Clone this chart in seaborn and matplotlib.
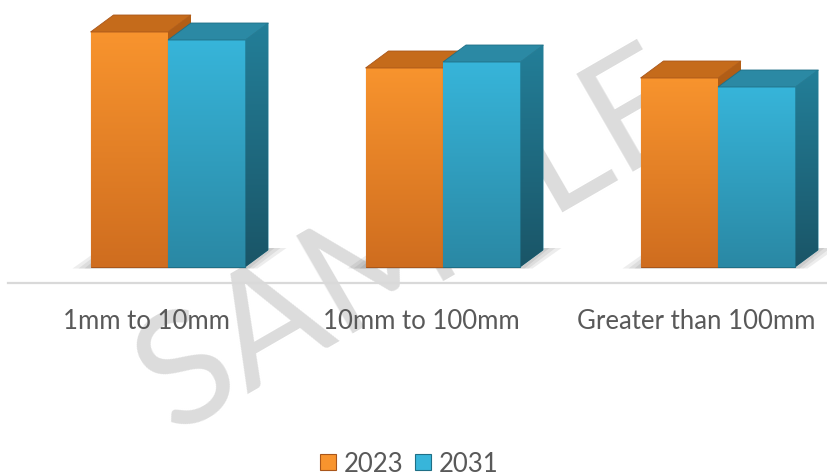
import numpy as np
import pandas as pd
import matplotlib
matplotlib.use("Agg")
import matplotlib.pyplot as plt
import matplotlib.transforms as mtransforms
from matplotlib.patches import Polygon, Patch
from matplotlib.colors import LinearSegmentedColormap
import seaborn as sns

# ---------------- data ----------------
categories = ["1mm to 10mm", "10mm to 100mm", "Greater than 100mm"]
years = ["2023", "2031"]
values_2023 = [235, 199, 189]
values_2031 = [227, 205, 180]

df = pd.DataFrame({
    "Category": categories * 2,
    "Year": [years[0]] * len(categories) + [years[1]] * len(categories),
    "Value": values_2023 + values_2031,
})

# ---------------- style ----------------
sns.set_theme(style="white")
plt.rcParams["font.family"] = ["Lato", "DejaVu Sans"]

front_cols = {  # (bottom, top)
    "2023": ("#CF6D1F", "#F8942E"),
    "2031": ("#2A88A4", "#37B5DA"),
}
top_cols = {"2023": "#C56B1B", "2031": "#2B89A4"}
side_cols = {"2023": ("#8E4A12", "#B45F17"), "2031": ("#1A5567", "#237F99")}
edge_cols = {"2023": "#A9561A", "2031": "#1F6F86"}
mid_cols = ["#E4812A", "#31A1C3"]

fig = plt.figure(figsize=(8.28, 4.77), dpi=100)
ax = fig.add_axes([8 / 828, 193 / 477, 820 / 828, 284 / 477])
ax.patch.set_facecolor("none")

# watermark (kept fully inside the canvas)
fig.text(0.50, 0.49, "SAMPLE", rotation=30, fontsize=114, color="#dcdcdc",
         ha="center", va="center", rotation_mode="anchor", zorder=-1,
         fontweight="normal", family=["Lato", "DejaVu Sans"])

sns.barplot(data=df, x="Category", y="Value", hue="Year", order=categories,
            hue_order=years, palette=mid_cols, saturation=1, width=0.5636,
            ax=ax, legend=False, zorder=3)

XLIM = (-0.5818, 2.4)
YLIM = (-16, 268)
ax.set_xlim(*XLIM)
ax.set_ylim(*YLIM)

p0 = ax.transData.transform((0, 0))
p1 = ax.transData.transform((1, 1))
ddx = 23 / (p1[0] - p0[0])
ddy = 17 / (p1[1] - p0[1])
px_x = 1 / (p1[0] - p0[0])
px_y = 1 / (p1[1] - p0[1])

grad = np.linspace(0, 1, 256).reshape(-1, 1)
bars = list(ax.patches)
n = len(categories)
for i, bar in enumerate(bars):
    yr = years[i // n]
    z = 3 if yr == years[0] else 4
    x0 = bar.get_x()
    w = bar.get_width()
    h = bar.get_height()
    x1 = x0 + w
    bar.set_zorder(z)
    bar.set_edgecolor(edge_cols[yr])
    bar.set_linewidth(0.8)
    cm = LinearSegmentedColormap.from_list("f", list(front_cols[yr]))
    im = ax.imshow(grad, extent=(x0, x1, 0, h), origin="lower", aspect="auto",
                   cmap=cm, zorder=z + 0.05, interpolation="bilinear")
    im.set_clip_path(bar)
    # top face
    top = Polygon([(x0, h), (x1, h), (x1 + ddx, h + ddy), (x0 + ddx, h + ddy)],
                  closed=True, facecolor=top_cols[yr], edgecolor=edge_cols[yr],
                  linewidth=0.6, zorder=z + 0.1)
    ax.add_patch(top)
    # side face
    side = Polygon([(x1, 0), (x1 + ddx, ddy), (x1 + ddx, h + ddy), (x1, h)],
                   closed=True, facecolor=side_cols[yr][1], edgecolor="none",
                   zorder=z + 0.1)
    ax.add_patch(side)
    cms = LinearSegmentedColormap.from_list("s", list(side_cols[yr]))
    ims = ax.imshow(grad, extent=(x1, x1 + ddx, 0, h + ddy), origin="lower",
                    aspect="auto", cmap=cms, zorder=z + 0.12,
                    interpolation="bilinear")
    ims.set_clip_path(side)
    # soft floor shadow (drawn once per group, from the first series bar)
    if yr == years[0]:
        right = x1 + w
        for k, a in enumerate([0.10, 0.10, 0.12]):
            g = (3 - k) * 4
            sh = Polygon([(x0 - g * px_x * 1.5, -1.5 * px_y),
                          (right + g * px_x, -1.5 * px_y),
                          (right + ddx + g * px_x * 1.5, ddy + 2 * px_y),
                          (x0 + ddx - g * px_x, ddy + 2 * px_y)],
                         closed=True, facecolor="#555555", edgecolor="none",
                         alpha=a, zorder=2)
            ax.add_patch(sh)

ax.set_xlim(*XLIM)
ax.set_ylim(*YLIM)

# axes styling
ax.set_xlabel("")
ax.set_ylabel("")
ax.set_yticks([])
for s in ["left", "right", "top"]:
    ax.spines[s].set_visible(False)
ax.spines["bottom"].set_color("#d9d9d9")
ax.spines["bottom"].set_linewidth(1.6)
ax.tick_params(axis="x", length=0, pad=18, labelsize=18.5, labelcolor="#595959")
offset = mtransforms.ScaledTranslation(-22 / 100, 0, fig.dpi_scale_trans)
for lab in ax.get_xticklabels():
    lab.set_transform(lab.get_transform() + offset)

# legend
handles = [Patch(facecolor=front_cols[y][1], edgecolor=edge_cols[y], linewidth=0.8)
           for y in years]
fig.legend(handles, years, loc="center", bbox_to_anchor=(409 / 828, 12 / 477),
           ncol=2, frameon=False, fontsize=18.5, labelcolor="#595959",
           handlelength=0.62, handleheight=0.58, handletextpad=0.3,
           columnspacing=0.45, borderpad=0, borderaxespad=0)

fig.savefig("out.png", dpi=100)
